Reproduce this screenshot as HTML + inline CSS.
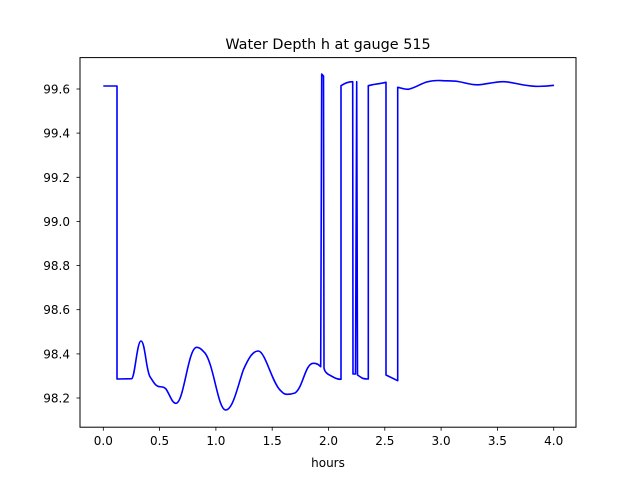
<!DOCTYPE html>
<html><head><style>body{margin:0;background:#fff}svg{display:block}text{font-family:"DejaVu Sans","Liberation Sans",sans-serif;font-size:12px;fill:#000}</style></head>
<body>
<svg width="640" height="480" viewBox="0 0 640 480">
<rect x="80" y="57.6" width="496" height="369.6" fill="#fff" stroke="#000" stroke-width="1"/>
<g stroke="#000" stroke-width="0.8">
<line x1="103.3" y1="427.2" x2="103.3" y2="430.7"/><line x1="159.6" y1="427.2" x2="159.6" y2="430.7"/><line x1="215.9" y1="427.2" x2="215.9" y2="430.7"/><line x1="272.2" y1="427.2" x2="272.2" y2="430.7"/><line x1="328.5" y1="427.2" x2="328.5" y2="430.7"/><line x1="384.8" y1="427.2" x2="384.8" y2="430.7"/><line x1="441.1" y1="427.2" x2="441.1" y2="430.7"/><line x1="497.4" y1="427.2" x2="497.4" y2="430.7"/><line x1="553.7" y1="427.2" x2="553.7" y2="430.7"/>
<line x1="76.5" y1="89" x2="80" y2="89"/><line x1="76.5" y1="133.1" x2="80" y2="133.1"/><line x1="76.5" y1="177.3" x2="80" y2="177.3"/><line x1="76.5" y1="221.4" x2="80" y2="221.4"/><line x1="76.5" y1="265.6" x2="80" y2="265.6"/><line x1="76.5" y1="309.7" x2="80" y2="309.7"/><line x1="76.5" y1="353.9" x2="80" y2="353.9"/><line x1="76.5" y1="398" x2="80" y2="398"/>
</g>
<g text-anchor="middle">
<text x="103.3" y="445">0.0</text><text x="159.6" y="445">0.5</text><text x="215.9" y="445">1.0</text><text x="272.2" y="445">1.5</text><text x="328.5" y="445">2.0</text><text x="384.8" y="445">2.5</text><text x="441.1" y="445">3.0</text><text x="497.4" y="445">3.5</text><text x="553.7" y="445">4.0</text>
<text x="328" y="467">hours</text>
<text x="328" y="49" style="font-size:14.4px">Water Depth h at gauge 515</text>
</g>
<g text-anchor="end">
<text x="70" y="93.5">99.6</text><text x="70" y="137.6">99.4</text><text x="70" y="181.8">99.2</text><text x="70" y="225.9">99.0</text><text x="70" y="270.1">98.8</text><text x="70" y="314.2">98.6</text><text x="70" y="358.4">98.4</text><text x="70" y="402.5">98.2</text>
</g>
<path fill="none" stroke="#00f" stroke-width="1.6" stroke-linejoin="round" d="M103.3,86 L117,86 L117,379 L131.7,378.7 C135,377 137,341 141,341 C145,341 146,370 150,376.7 C154,383 156,386.7 160,386.7 C163,387 164,387 166,389 C170,395 172,403.3 176,403.3 C184,403 188,347.3 196.7,347.3 C200,347.3 202,350 205,353 C214,365 218,410 225.7,410 C233,410 238,385 243.3,370 C249,357 253,351 258.3,351 C265,351 272,382 280,390 C283,393 284,394.3 286.7,394.3 C290,394.3 292,394 295,393 C303,388 305,363.3 313.3,363.3 C317,363 319,365 320.7,366.7 L321.7,74 L323.5,76 L324,368 C325,374 330,375 335,378 C337,379 339,379.3 341,379.3 L341,85.7 C345,83 349,81.7 352.7,81.7 L353,374 L355.5,374 L356.7,81.7 L357.5,375 L362,378 C364,379 366,379 368.3,379 L368.3,85.7 C374,84 379,84 386,82.3 L386,375 L397.7,380.7 L397.7,87.3 C401,88 404,89.3 408.3,89.3 C415,88 420,84 426.7,82 C432,80.5 436,80.3 441,80.6 C447,81 452,80.7 458,81.5 C465,82.5 470,85 478,84.8 C485,84.6 493,82 503,81.7 C512,81.6 520,85.5 535,86.3 C543,86.6 549,86 554,85.3"/>
</svg>
</body></html>
